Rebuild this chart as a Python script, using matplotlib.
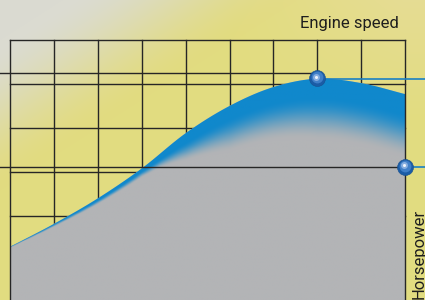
import numpy as np
import matplotlib
matplotlib.use("Agg")
import matplotlib.pyplot as plt
from matplotlib.patches import Polygon

# engine speed (grid columns) and horsepower (grid rows)
speed = [0, 1, 2, 3, 4, 5, 6, 7, 8, 9]
power = [0.30, 0.82, 1.40, 2.08, 2.88, 3.50, 3.93, 4.12, 4.02, 3.77]
peak_speed, peak_power = 7, 4.13
end_speed, end_power = 9, 2.125
guide_level = 4.25
grid_cols = list(range(10))
grid_rows = [1, 2, 3, 4, 5]

blue = np.array([16, 136, 204]) / 255
grey = np.array([179, 180, 182]) / 255
dark = "#262626"
fam = ["Roboto", "DejaVu Sans"]

# pixel scale of the layout (one grid cell ~44px)
px_x, px_y = 43.9, 44.0
xlim = (-10 / px_x, 415 / px_x)
ylim = (-40 / px_y, 260 / px_y)

fig = plt.figure(figsize=(4.25, 3), dpi=100)
ax = fig.add_axes([0, 0, 1, 1])
ax.set_xlim(*xlim)
ax.set_ylim(*ylim)
ax.axis("off")

# blurred photo-like background: grey top-left fading into yellow
W, H = 425, 300
xx, yy = np.meshgrid(np.linspace(0, 1, W), np.linspace(0, 1, H))
p = xx + 1.1 * yy
t = np.clip((p - 0.15) / 0.55, 0, 1)
t = t * t * (3 - 2 * t)
c_grey = np.array([219, 219, 210]) / 255
c_yel = np.array([226, 220, 128]) / 255
bg = c_grey[None, None, :] * (1 - t[..., None]) + c_yel[None, None, :] * t[..., None]
# top right is a bit paler / beige
beige = np.array([232, 220, 160]) / 255
u = np.clip((xx - 0.55) / 0.4, 0, 1) * np.clip((0.4 - yy) / 0.4, 0, 1)
bg = bg * (1 - 0.6 * u[..., None]) + beige[None, None, :] * 0.6 * u[..., None]
ax.imshow(bg, extent=(xlim[0], xlim[1], ylim[0], ylim[1]), origin="upper",
          aspect="auto", zorder=0, interpolation="bilinear")

# grid
for r in grid_rows:
    ax.plot([grid_cols[0], grid_cols[-1]], [r, r], color=dark, lw=1.0, zorder=1)
for c in grid_cols[1:-1]:
    ax.plot([c, c], [ylim[0], grid_rows[-1]], color=dark, lw=1.0, zorder=1)

# smooth curve through the points (catmull-rom)
P = np.column_stack([speed, power]).astype(float)
P = np.vstack([P[0] * 2 - P[1], P, P[-1] * 2 - P[-2]])
cx, cy = [], []
for i in range(1, len(P) - 2):
    s = np.linspace(0, 1, 40, endpoint=False)[:, None]
    p0, p1, p2, p3 = P[i - 1], P[i], P[i + 1], P[i + 2]
    seg = 0.5 * ((2 * p1) + (-p0 + p2) * s + (2 * p0 - 5 * p1 + 4 * p2 - p3) * s ** 2
                 + (-p0 + 3 * p1 - 3 * p2 + p3) * s ** 3)
    cx.extend(seg[:, 0]); cy.extend(seg[:, 1])
cx.append(speed[-1]); cy.append(power[-1])
cx, cy = np.array(cx), np.array(cy)

poly = np.vstack([np.column_stack([cx, cy]), [[speed[-1], ylim[0]], [speed[0], ylim[0]]]])
area = Polygon(poly, closed=True, facecolor=grey, edgecolor="none", zorder=2)
ax.add_patch(area)

# blue-to-grey shading under the curve
gx = np.linspace(speed[0], speed[-1], 400)
gy = np.linspace(ylim[0], max(power) + 0.1, 260)
GX, GY = np.meshgrid(gx, gy)
top = np.interp(gx, cx, cy)
d = (top[None, :] - GY) * px_y
kx = [0, 1, 2, 3, 3.4, 4, 5, 7, 9]
s_in = np.interp(gx, kx, [0, 0.3, 1.5, 2.5, 5, 9, 12, 18, 19])[None, :]
s_out = np.interp(gx, kx, [1, 3, 6, 9, 14, 28, 46, 62, 64])[None, :]
f = np.clip((d - s_in) / (s_out - s_in), 0, 1)
f = f * f * (3 - 2 * f)
img = blue[None, None, :] * (1 - f[..., None]) + grey[None, None, :] * f[..., None]
im = ax.imshow(img, extent=(gx[0], gx[-1], gy[0], gy[-1]), origin="lower",
               aspect="auto", zorder=2.1, interpolation="bilinear")
im.set_clip_path(area)

# frame sides on top of the fill
for c in (grid_cols[0], grid_cols[-1]):
    ax.plot([c, c], [ylim[0], grid_rows[-1]], color=dark, lw=1.0, zorder=3)

# guide lines to the markers
ax.plot([xlim[0], peak_speed - 0.15], [guide_level, guide_level], color=dark, lw=1.0, zorder=3)
ax.plot([peak_speed, xlim[1]], [peak_power - 0.02, peak_power - 0.02], color="#1a80c4", lw=1.2, zorder=3)
ax.plot([xlim[0], end_speed - 0.15], [end_power, end_power], color=dark, lw=1.0, zorder=3)
ax.plot([end_speed, xlim[1]], [end_power - 0.02, end_power - 0.02], color="#1a80c4", lw=1.2, zorder=3)

# glossy ball markers
for mx, my in [(peak_speed, peak_power), (end_speed, end_power)]:
    ax.plot(mx, my, "o", ms=11.5, color="#1b5ca6", mec="#17508f", mew=0.4, zorder=4)
    ax.plot(mx - 0.01, my + 0.02, "o", ms=8.5, color="#3f7fc8", mec="none", zorder=4.1)
    ax.plot(mx - 0.02, my + 0.04, "o", ms=5, color="#86aee0", mec="none", zorder=4.2)
    ax.plot(mx - 0.02, my + 0.04, "o", ms=2.2, color="#eef4fc", mec="none", zorder=4.3)

ax.text(8.86, 5.265, "Engine speed", ha="right", va="baseline", fontsize=12,
        family=fam, color="#1e1e1e", zorder=5)
ax.text(9.43, 1.16, "Horsepower", ha="right", va="baseline", rotation=90,
        rotation_mode="anchor", fontsize=12, family=fam, color="#1e1e1e", zorder=5)

fig.savefig("out.png", dpi=100)
